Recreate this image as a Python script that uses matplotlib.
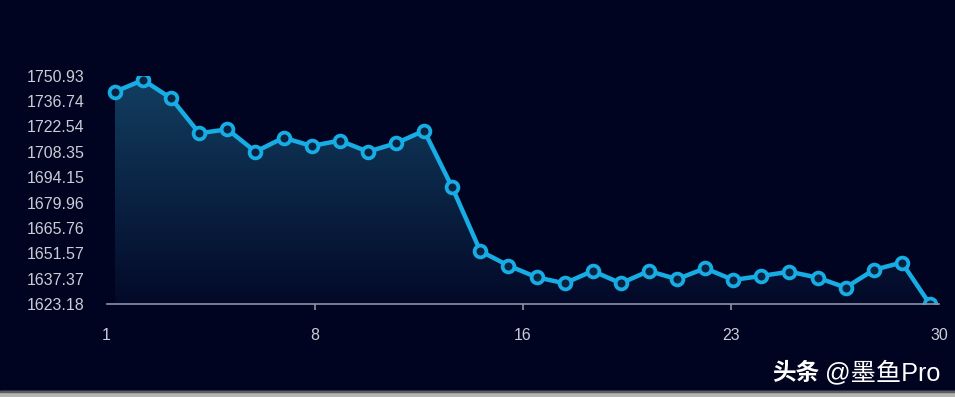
import matplotlib
matplotlib.use("Agg")
import matplotlib.pyplot as plt
import numpy as np
from matplotlib.patches import Rectangle

## DATA
days = list(range(1, 31))
values = [1741.9, 1748.4, 1738.2, 1718.7, 1720.9, 1708.4, 1716.2, 1711.6, 1714.6, 1708.4,
          1713.1, 1720.1, 1688.5, 1652.9, 1644.8, 1638.3, 1634.9, 1641.8, 1634.9, 1641.8,
          1637.2, 1643.3, 1636.8, 1639.0, 1641.4, 1638.1, 1632.5, 1642.4, 1646.5, 1623.18]
y_ticks = [1623.18, 1637.37, 1651.57, 1665.76, 1679.96, 1694.15, 1708.35, 1722.54, 1736.74, 1750.93]
x_tick_labels = ["1", "8", "16", "23", "30"]

## STYLE
BG = "#000420"
LINE = "#17ade4"
AXIS = "#8b93a6"
TEXT = "#c9cdd6"

plt.rcParams['font.family'] = ['Liberation Sans', 'DejaVu Sans']

fig = plt.figure(figsize=(9.55, 3.97), dpi=100, facecolor=BG)
ax = fig.add_axes([0.1117, 0.2335, 0.8715, 0.5763])
ax.set_facecolor(BG)

x = np.array(days, dtype=float)
y = np.array(values)

xlo, xhi = 0.705, 30.32
ax.set_xlim(xlo, xhi)
ax.set_ylim(y_ticks[0], y_ticks[-1])

# gradient fill under the line, clipped to the area polygon
poly = ax.fill_between(x, y, y_ticks[0], color="none", lw=0)
grad = np.linspace(0, 1, 256).reshape(-1, 1)
top = np.array([0x12, 0x3e, 0x60]) / 255
bot = np.array([0x03, 0x09, 0x28]) / 255
rgb = bot + (top - bot) * grad[..., None] * np.ones((1, 1, 3))
img = ax.imshow(rgb, extent=[x[0], x[-1], y_ticks[0], max(values)], origin="lower",
                aspect="auto", zorder=1)
path = poly.get_paths()[0]
img.set_clip_path(path, transform=ax.transData)

ax.plot(x, y, color=LINE, lw=3.2, zorder=3, solid_joinstyle="round",
        marker="o", ms=8.5, mew=2.7, mfc="#0a2242", mec=LINE, clip_on=True)

for s in ["top", "right", "left"]:
    ax.spines[s].set_visible(False)
ax.spines["bottom"].set_color(AXIS)
ax.spines["bottom"].set_linewidth(1.2)
ax.spines["bottom"].set_zorder(4)

ax.set_yticks(y_ticks)
ax.set_yticklabels([f"{v:.2f}" for v in y_ticks])
ax.tick_params(axis="y", length=0, pad=16, labelsize=11.5, labelcolor=TEXT)

ax.set_xticks(np.linspace(xlo, xhi, 5))
ax.set_xticklabels(x_tick_labels)
ax.tick_params(axis="x", length=4, width=1.2, color=AXIS, pad=13, labelsize=11.5, labelcolor=TEXT)
xt = ax.xaxis.get_major_ticks()
xt[0].tick1line.set_visible(False)
xt[-1].tick1line.set_visible(False)

# watermark
fig.text(0.808, 0.042, "头条", color="white", fontsize=17, fontweight="bold",
         family=["Noto Sans CJK SC", "DejaVu Sans"], ha="left", va="baseline")
fig.text(0.864, 0.042, "@墨鱼Pro", color="white", fontsize=18.2,
         family=["Liberation Sans", "Noto Sans CJK SC"], ha="left", va="baseline")

# screenshot frame at the bottom
fig.patches.append(Rectangle((0, 0), 1, 6 / 397, transform=fig.transFigure,
                             color="#b4b4b4", zorder=0))
fig.patches.append(Rectangle((0, 5 / 397), 1, 1.5 / 397, transform=fig.transFigure,
                             color="#5c5c5c", zorder=0))

fig.savefig("out.png", dpi=100, facecolor=BG)
